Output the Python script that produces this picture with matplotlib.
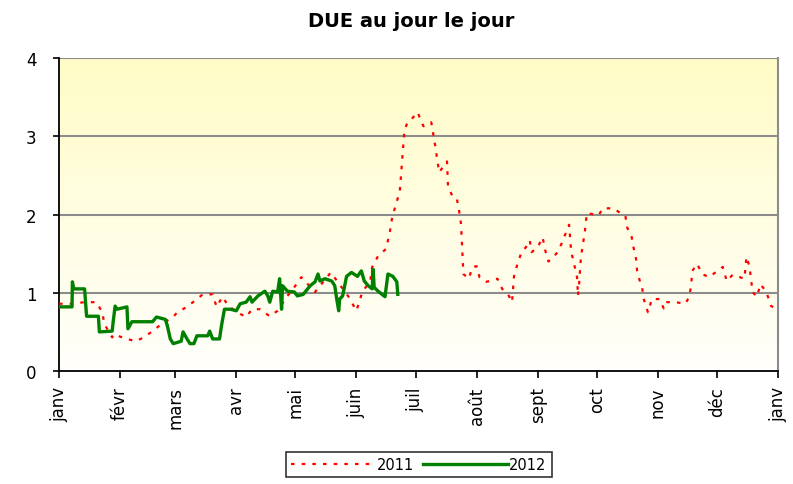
"""DUE au jour le jour: daily values 2011 vs 2012."""

import numpy
from matplotlib import pyplot

# Month ticks (day of year) and labels.
month_days = [0, 31, 59, 90, 120, 151, 181, 212, 243, 273, 304, 334, 365]
month_labels = ['janv', 'févr', 'mars', 'avr', 'mai', 'juin', 'juil',
                'août', 'sept', 'oct', 'nov', 'déc', 'janv']

# 2011 series (red dotted): day of year, value.
days_2011 = [0, 6.6, 13, 19, 22, 23, 27, 28, 33, 39, 43, 47, 52, 58, 60, 65,
             69, 73, 78, 80, 83, 86, 92, 95, 98, 102, 107, 111, 116, 120,
             123, 130, 138, 147, 151, 154, 158, 159, 162, 166, 168, 169,
             171, 173, 173.5, 174, 174.5, 175, 175.5, 177, 179, 182, 185,
             189, 190, 191, 192, 193, 197, 197.5, 200, 202, 203, 204, 204.4,
             204.7, 205, 205.3, 208, 210, 212, 213.5, 217, 222.6, 225, 228,
             230, 230.5, 231, 233, 235, 237, 239, 240, 243, 245.5, 247,
             248.5, 252.5, 255, 259, 260, 261.5, 263, 263.5, 264, 265, 266,
             267, 268, 270, 274, 276, 281.5, 285, 287.5, 288.5, 290.5, 291.5,
             293, 293.5, 295, 296, 297, 299, 301, 305, 307, 308, 313, 318,
             320, 321, 321.5, 324, 326.5, 330, 337, 339, 342, 348, 349,
             350.5, 351.5, 352, 354.5, 356, 359, 361.5, 365]
values_2011 = [0.86, 0.86, 0.88, 0.88, 0.75, 0.60, 0.43, 0.47, 0.42, 0.38,
               0.43, 0.50, 0.60, 0.69, 0.75, 0.82, 0.90, 0.98, 0.98, 0.82,
               0.95, 0.83, 0.73, 0.69, 0.79, 0.79, 0.70, 0.77, 0.96, 1.09,
               1.20, 1.01, 1.26, 0.95, 0.77, 1.01, 1.15, 1.33, 1.47, 1.56,
               1.78, 1.94, 2.13, 2.29, 2.45, 2.62, 2.80, 2.96, 3.09, 3.18,
               3.22, 3.31, 3.13, 3.18, 3.03, 2.88, 2.71, 2.54, 2.68, 2.36,
               2.22, 2.20, 2.07, 1.90, 1.73, 1.56, 1.39, 1.24, 1.18, 1.33,
               1.34, 1.20, 1.14, 1.18, 1.05, 0.98, 0.88, 1.05, 1.21, 1.39,
               1.53, 1.58, 1.67, 1.52, 1.58, 1.71, 1.53, 1.40, 1.50, 1.62,
               1.87, 1.53, 1.37, 1.20, 0.96, 1.09, 1.46, 1.62, 1.79, 2.02,
               2.01, 1.99, 2.08, 2.08, 2.02, 1.99, 1.83, 1.75, 1.60, 1.43,
               1.28, 1.14, 1.07, 0.91, 0.75, 0.92, 0.92, 0.80, 0.88, 0.88,
               0.86, 0.95, 1.11, 1.28, 1.37, 1.24, 1.20, 1.33, 1.15, 1.23,
               1.18, 1.46, 1.34, 1.15, 1.01, 0.95, 1.11, 1.02, 0.83, 0.79]

# 2012 series (green solid): day of year, value.
days_2012 = [0, 6.6, 6.8, 7.5, 13, 14, 20, 20.5, 27, 27.5, 28.5, 29.5, 34.5,
             35, 37, 47.5, 49.5, 54, 55, 56.5, 58, 62, 63, 65, 66.5, 68.5,
             70, 75.5, 76.5, 78, 81.5, 82.5, 84, 87, 90, 92, 95, 97, 98, 101,
             104.5, 106, 107, 108.5, 111, 112, 113, 113.5, 116, 119.5, 121,
             124, 127.5, 130, 131.5, 132.5, 135, 138.5, 140, 141, 142, 142.5,
             144, 146, 148.5, 151.5, 153.5, 155, 157, 159, 159.5, 160, 162,
             165.5, 167, 169.5, 171.5, 172]
values_2012 = [0.82, 0.82, 1.14, 1.05, 1.05, 0.70, 0.70, 0.50, 0.51, 0.63,
               0.83, 0.79, 0.82, 0.54, 0.63, 0.63, 0.69, 0.66, 0.58, 0.41,
               0.35, 0.38, 0.50, 0.41, 0.35, 0.35, 0.45, 0.45, 0.51, 0.41,
               0.41, 0.58, 0.79, 0.79, 0.77, 0.86, 0.88, 0.95, 0.88, 0.96,
               1.02, 0.96, 0.88, 1.02, 1.01, 1.18, 0.79, 1.09, 1.02, 1.01,
               0.96, 0.98, 1.09, 1.14, 1.24, 1.15, 1.18, 1.15, 1.09, 0.92,
               0.77, 0.92, 0.96, 1.21, 1.26, 1.21, 1.28, 1.15, 1.09, 1.05,
               1.30, 1.07, 1.02, 0.95, 1.24, 1.21, 1.14, 0.98]

fig = pyplot.figure(figsize=(7.93, 4.85), dpi=100)
ax = fig.add_axes([0.0744, 0.233, 0.9066, 0.645])

# Yellow-to-white vertical gradient background.
grad = numpy.linspace(0.0, 1.0, 256).reshape(-1, 1)
top = numpy.array([1.0, 0.988, 0.78])
bottom = numpy.array([1.0, 1.0, 0.985])
img = bottom + (top - bottom) * grad[:, :, None]
ax.imshow(img, extent=[0, 365, 0, 4], origin='lower', aspect='auto',
          zorder=0)

for yv in [1, 2, 3, 4]:
    ax.axhline(yv, color='#8c8c8c', linewidth=1.5, zorder=1)

ax.plot(days_2011, values_2011, color='#ff0000', linewidth=1.6,
        linestyle=(0, (1.6, 3.2)), label='2011', zorder=3)
ax.plot(days_2012, values_2012, color='#008000', linewidth=2.4,
        label='2012', zorder=4)

ax.set_xlim(0, 365)
ax.set_ylim(0, 4)
ax.set_yticks([0, 1, 2, 3, 4])
ax.set_yticklabels(['0', '1', '2', '3', '4'], fontsize=12)
ax.set_xticks(month_days)
ax.set_xticklabels(month_labels, rotation=90, fontsize=12)
ax.tick_params(axis='x', direction='out', length=5, width=1.2, pad=6)
ax.tick_params(axis='y', direction='out', length=4, width=1.2, pad=12)

for side in ['left', 'bottom']:
    ax.spines[side].set_color('black')
    ax.spines[side].set_linewidth(1.3)
ax.spines['top'].set_visible(False)
ax.spines['right'].set_color('#8c8c8c')
ax.spines['right'].set_linewidth(1.5)

fig.text(0.518, 0.955, 'DUE au jour le jour', ha='center', va='center',
         fontsize=14, fontweight='bold')

leg = fig.legend(loc='center', bbox_to_anchor=(0.528, 0.041), ncol=2,
                 fontsize=10.5, frameon=True, fancybox=False,
                 handlelength=5.8, handletextpad=0.1, columnspacing=0.6,
                 borderpad=0.35, borderaxespad=0)
leg.get_frame().set_edgecolor('black')
leg.get_frame().set_linewidth(1.2)

fig.savefig('out.png', dpi=100)
